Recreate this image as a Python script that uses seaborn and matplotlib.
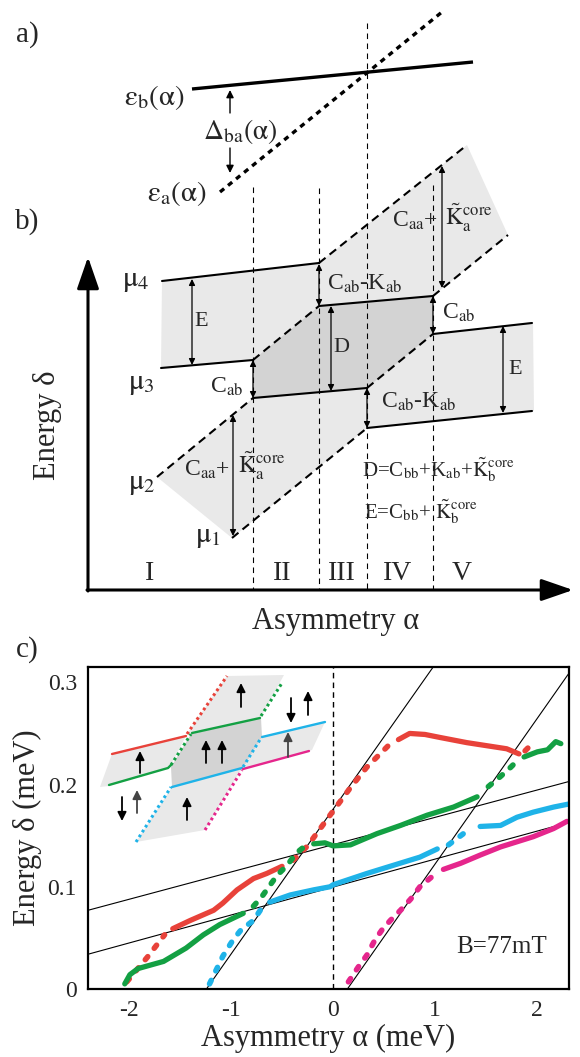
import pandas as pd
import matplotlib
matplotlib.use('Agg')
import matplotlib.pyplot as plt
import seaborn as sns
from matplotlib.patches import Polygon

# ---------------- panel c: measured curves (alpha in meV, delta in meV) ----------------
# kind: 's' = solid (measured), 'd' = dotted (extrapolated)
red_x = [-2.02, -1.82, -1.65, -1.57, -1.40, -1.17, -1.08, -0.94, -0.78, -0.65, -0.50,
         -0.39, -0.25, -0.03, 0.17, 0.33, 0.54, 0.64, 0.75, 0.90, 1.05, 1.31, 1.57, 1.70, 1.82,
         1.88, 1.93]
red_y = [0.007, 0.031, 0.053, 0.059, 0.067, 0.077, 0.084, 0.097, 0.108, 0.113, 0.120,
         0.126, 0.140, 0.170, 0.197, 0.217, 0.238, 0.244, 0.250, 0.249, 0.246, 0.241, 0.237, 0.235, 0.230,
         0.233, 0.238]
red_kind = ['d'] * 3 + ['s'] * 8 + ['d'] * 6 + ['s'] * 8 + ['d'] * 2

green_x = [-2.04, -1.99, -1.91, -1.66, -1.44, -1.27, -1.11, -0.88,
           -0.78, -0.70, -0.55, -0.45, -0.36, -0.26,
           -0.19, -0.08, 0.00, 0.17, 0.43, 0.66, 0.92, 1.18, 1.41,
           1.52, 1.64, 1.74, 1.83,
           1.87, 2.00, 2.10, 2.18, 2.23]
green_y = [0.005, 0.014, 0.020, 0.027, 0.040, 0.053, 0.063, 0.074,
           0.081, 0.090, 0.111, 0.121, 0.133, 0.141,
           0.142, 0.143, 0.140, 0.141, 0.152, 0.160, 0.170, 0.178, 0.188,
           0.198, 0.208, 0.217, 0.226,
           0.227, 0.232, 0.234, 0.242, 0.240]
green_kind = ['s'] * 8 + ['d'] * 6 + ['s'] * 9 + ['d'] * 4 + ['s'] * 5

blue_x = [-1.21, -1.08, -0.98, -0.90, -0.78, -0.70,
          -0.62, -0.42, -0.19, -0.03, 0.00, 0.33, 0.59, 0.85, 1.02,
          1.13, 1.29,
          1.44, 1.64, 1.80, 1.96, 2.16, 2.31]
blue_y = [0.005, 0.032, 0.048, 0.058, 0.067, 0.079,
          0.085, 0.092, 0.097, 0.100, 0.102, 0.113, 0.121, 0.129, 0.137,
          0.141, 0.153,
          0.159, 0.160, 0.168, 0.173, 0.178, 0.181]
blue_kind = ['d'] * 6 + ['s'] * 9 + ['d'] * 2 + ['s'] * 6

mag_x = [0.15, 0.25, 0.33, 0.41, 0.48, 0.56, 0.66, 0.76, 0.85, 0.97,
         1.08, 1.25, 1.44, 1.64, 1.80, 1.96, 2.16, 2.29]
mag_y = [0.007, 0.022, 0.033, 0.048, 0.058, 0.067, 0.077, 0.088, 0.100, 0.110,
         0.117, 0.123, 0.131, 0.139, 0.144, 0.149, 0.157, 0.164]
mag_kind = ['d'] * 10 + ['s'] * 8

# thin black guide lines: end points
guide_x = [[-1.24, 0.98], [0.14, 2.31], [-2.40, 2.31], [-2.40, 2.31]]
guide_y = [[0.0, 0.315], [0.0, 0.309], [0.077, 0.203], [0.034, 0.163]]

x_ticks = [-2, -1.5, -1, -0.5, 0, 0.5, 1, 1.5, 2]
x_ticklabels = ['-2', '', '-1', '', '0', '', '1', '', '2']
y_ticks = [0, 0.1, 0.2, 0.3]
y_ticklabels = ['0', '0.1', '0.2', '0.3']

RED, GREEN, BLUE, MAG = '#e8423a', '#13a043', '#1fb3e8', '#e5268c'
LIGHT, DARK = '#e9e9e9', '#d3d3d3'

# ---------------- panels a/b and inset: schematic, figure pixel coordinates ----------------
a_solid = [(192, 89), (473, 62)]
a_dotted = [(220, 192), (442, 12)]
region_lines_x = [253, 319, 367, 433]
region_lines_top = [187, 188, 23, 185]

b_levels = [[(162, 281), (319, 263)], [(319, 306), (433, 296)], [(161, 368), (253, 360)],
            [(253, 398), (367, 388)], [(433, 334), (532, 323)], [(367, 428), (532, 411)]]
b_dashes = [[(319, 263), (467, 145)], [(433, 296), (508, 235)], [(253, 360), (319, 306)],
            [(367, 388), (433, 334)], [(157, 477), (253, 398)], [(232, 538), (367, 428)]]
b_light = [[(162, 281), (319, 263), (319, 306), (253, 360), (161, 368)],
           [(319, 263), (467, 145), (508, 235), (433, 296), (319, 306)],
           [(157, 477), (253, 398), (367, 388), (367, 428), (232, 538)],
           [(367, 388), (433, 334), (533, 322), (534, 411), (367, 428)]]
b_dark = [(253, 398), (253, 360), (319, 306), (433, 296), (433, 334), (367, 388)]
b_arrows = [(192, 279, 365), (319, 264, 306), (331, 306, 391), (433, 296, 334),
            (442, 166, 288), (503, 326, 413), (253, 360, 398), (367, 388, 428), (233, 415, 536)]

ins_light = [[(100, 787), (112, 754), (186, 736), (170, 767), (109, 786)],
             [(187, 734), (227, 676), (284, 675), (261, 717), (192, 733)],
             [(262, 737), (325, 722), (312, 750), (243, 769)],
             [(136, 842), (172, 787), (242, 768), (205, 830)]]
ins_dark = [(172, 787), (171, 767), (191, 734), (261, 718), (262, 737), (243, 768)]
ins_solid = [([(112, 754), (186, 736)], RED), ([(109, 785), (168, 768), (171, 765)], GREEN),
             ([(192, 733), (260, 718)], GREEN), ([(172, 787), (242, 768)], BLUE),
             ([(262, 737), (325, 722)], BLUE), ([(243, 769), (309, 751)], MAG)]
ins_dotted = [([(187, 734), (227, 676)], RED), ([(171, 765), (191, 734)], GREEN),
              ([(261, 716), (282, 683)], GREEN), ([(136, 842), (171, 787)], BLUE),
              ([(243, 767), (261, 738)], BLUE), ([(205, 830), (242, 770)], MAG)]
ins_arrows = [(140, 773, 751), (122, 797, 821), (137, 813, 790), (241, 707, 683),
              (206, 763, 740), (222, 763, 740), (187, 820, 797), (291, 698, 723),
              (308, 715, 691), (288, 757, 732)]

sns.set_style('white')
plt.rcParams['font.family'] = ['Liberation Serif', 'DejaVu Serif']
plt.rcParams['mathtext.fontset'] = 'stix'
plt.rcParams['axes.unicode_minus'] = False

fig = plt.figure(figsize=(5.8, 10.57), dpi=100)

# ---- panel c (real axes) ----
axc = fig.add_axes([88 / 580, 1 - 989 / 1057, (569 - 88) / 580, (989 - 667) / 1057], zorder=1)
for gx, gy in zip(guide_x, guide_y):
    axc.plot(gx, gy, color='k', lw=0.8)
axc.axvline(0, color='k', lw=1.0, ls=(0, (4, 3)))

curves = [(red_x, red_y, red_kind, RED), (green_x, green_y, green_kind, GREEN),
          (blue_x, blue_y, blue_kind, BLUE), (mag_x, mag_y, mag_kind, MAG)]
for xs, ys, kinds, col in curves:
    df = pd.DataFrame({'x': xs, 'y': ys, 'kind': kinds})
    df['seg'] = (df['kind'] != df['kind'].shift()).cumsum()
    for _, g in df.groupby('seg'):
        if g['kind'].iloc[0] == 's':
            sns.lineplot(data=g, x='x', y='y', sort=False, estimator=None, color=col,
                         lw=3.8, solid_capstyle='round', ax=axc, legend=False)
        else:
            sns.lineplot(data=g, x='x', y='y', sort=False, estimator=None, color=col,
                         lw=4.0, linestyle=(0, (0.7, 1.9)), dash_capstyle='round',
                         ax=axc, legend=False)

axc.set_xlim(-2.40, 2.31)
axc.set_ylim(0, 0.315)
axc.set_xticks(x_ticks)
axc.set_xticklabels(x_ticklabels)
axc.set_yticks(y_ticks)
axc.set_yticklabels(y_ticklabels)
axc.tick_params(axis='x', direction='in', length=7, width=1.2, color='#666666',
                labelsize=17, pad=8)
axc.tick_params(axis='y', direction='in', length=5, width=2.5, color='k',
                labelsize=17, pad=8)
for sp in axc.spines.values():
    sp.set_linewidth(1.6)
    sp.set_color('k')
axc.set_xlabel('Asymmetry α (meV)', fontsize=22, labelpad=2)
axc.set_ylabel('Energy δ (meV)', fontsize=22, labelpad=4)
axc.text(0.955, 0.13, 'B=77mT', transform=axc.transAxes, ha='right', va='center', fontsize=18)

# ---- overlay for schematics (pixel coordinates) ----
ov = fig.add_axes([0, 0, 1, 1], zorder=3)
ov.set_xlim(0, 580)
ov.set_ylim(1057, 0)
ov.axis('off')
ov.patch.set_alpha(0)


def line(pts, **kw):
    ov.plot([p[0] for p in pts], [p[1] for p in pts], **kw)


def arrow(x, y0, y1, style='-|>', ms=11, lw=1.0, color='k'):
    ov.annotate('', xy=(x, y1), xytext=(x, y0),
                arrowprops=dict(arrowstyle=style, lw=lw, color=color, mutation_scale=ms,
                                shrinkA=0, shrinkB=0))


# panel a
line(a_solid, color='k', lw=2.4, solid_capstyle='butt')
line(a_dotted, color='k', lw=2.4, ls=(0, (1.6, 1.5)))
arrow(230, 113, 90)
arrow(230, 148, 173)
for x, top in zip(region_lines_x, region_lines_top):
    ov.plot([x, x], [top, 590], color='k', lw=0.8, ls=(0, (5, 4)))

# panel b
for poly in b_light:
    ov.add_patch(Polygon(poly, closed=True, fc=LIGHT, ec='none', zorder=0))
ov.add_patch(Polygon(b_dark, closed=True, fc=DARK, ec='none', zorder=0))
for pts in b_levels:
    line(pts, color='k', lw=1.5)
for pts in b_dashes:
    line(pts, color='k', lw=1.5, ls=(0, (4, 2.5)))
for x, y0, y1 in b_arrows:
    arrow(x, y0, y1, style='<|-|>', ms=9, lw=0.9)
ov.annotate('', xy=(88, 257), xytext=(88, 591),
            arrowprops=dict(arrowstyle='-|>,head_length=1.3,head_width=0.45', lw=2.2,
                            color='k', mutation_scale=15, shrinkA=0, shrinkB=0))
ov.annotate('', xy=(573, 590), xytext=(87, 590),
            arrowprops=dict(arrowstyle='-|>,head_length=1.3,head_width=0.45', lw=2.2,
                            color='k', mutation_scale=15, shrinkA=0, shrinkB=0))

# inset in c
for poly in ins_light:
    ov.add_patch(Polygon(poly, closed=True, fc=LIGHT, ec='none', zorder=0))
ov.add_patch(Polygon(ins_dark, closed=True, fc=DARK, ec='none', zorder=0))
for pts, col in ins_solid:
    line(pts, color=col, lw=1.7)
for pts, col in ins_dotted:
    line(pts, color=col, lw=2.2, ls=(0, (0.9, 1.0)))
for i, (x, y0, y1) in enumerate(ins_arrows):
    arrow(x, y0, y1, ms=13, lw=1.3, color='#444444' if i in (2, 9) else 'k')

# texts
T = dict(ha='center', va='center')
ov.text(27, 35, 'a)', fontsize=21, **T)
ov.text(27, 222, 'b)', fontsize=21, **T)
ov.text(27, 650, 'c)', fontsize=21, **T)
ov.text(184, 98, r'$\mathrm{\varepsilon_b(\alpha)}$', ha='right', va='center', fontsize=21)
ov.text(206, 193, r'$\mathrm{\varepsilon_a(\alpha)}$', ha='right', va='center', fontsize=21)
ov.text(240, 132, r'$\mathrm{\Delta_{ba}(\alpha)}$', fontsize=20, **T)
ov.text(136, 281, r'$\mathrm{\mu_4}$', fontsize=21, **T)
ov.text(141, 384, r'$\mathrm{\mu_3}$', fontsize=21, **T)
ov.text(142, 484, r'$\mathrm{\mu_2}$', fontsize=21, **T)
ov.text(208, 537, r'$\mathrm{\mu_1}$', fontsize=21, **T)
ov.text(201, 322, 'E', fontsize=16, **T)
ov.text(515, 370, 'E', fontsize=16, **T)
ov.text(341, 348, 'D', fontsize=16, **T)
ov.text(327, 284, r'C$_\mathrm{ab}$-K$_\mathrm{ab}$', ha='left', va='center', fontsize=17)
ov.text(381, 402, r'C$_\mathrm{ab}$-K$_\mathrm{ab}$', ha='left', va='center', fontsize=17)
ov.text(442, 313, r'C$_\mathrm{ab}$', ha='left', va='center', fontsize=17)
ov.text(243, 387, r'C$_\mathrm{ab}$', ha='right', va='center', fontsize=17)
ov.text(438, 221, r'C$_\mathrm{aa}$+', ha='right', va='center', fontsize=17)
ov.text(445, 218, r'$\tilde{\mathrm{K}}_\mathrm{a}^\mathrm{core}$', ha='left', va='center', fontsize=17)
ov.text(230, 470, r'C$_\mathrm{aa}$+', ha='right', va='center', fontsize=17)
ov.text(238, 466, r'$\tilde{\mathrm{K}}_\mathrm{a}^\mathrm{core}$', ha='left', va='center', fontsize=17)
ov.text(362, 470, r'D=C$_\mathrm{bb}$+K$_\mathrm{ab}$+$\tilde{\mathrm{K}}_\mathrm{b}^\mathrm{core}$',
        ha='left', va='center', fontsize=15)
ov.text(364, 512, r'E=C$_\mathrm{bb}$+ $\tilde{\mathrm{K}}_\mathrm{b}^\mathrm{core}$',
        ha='left', va='center', fontsize=15)
for lab, x in zip(['I', 'II', 'III', 'IV', 'V'], [150, 282, 342, 398, 462]):
    ov.text(x, 573, lab, fontsize=20, **T)
ov.text(47, 425, 'Energy δ', rotation=90, fontsize=22, **T)
ov.text(336, 622, 'Asymmetry α', fontsize=22, **T)

fig.savefig('out.png', dpi=100)
